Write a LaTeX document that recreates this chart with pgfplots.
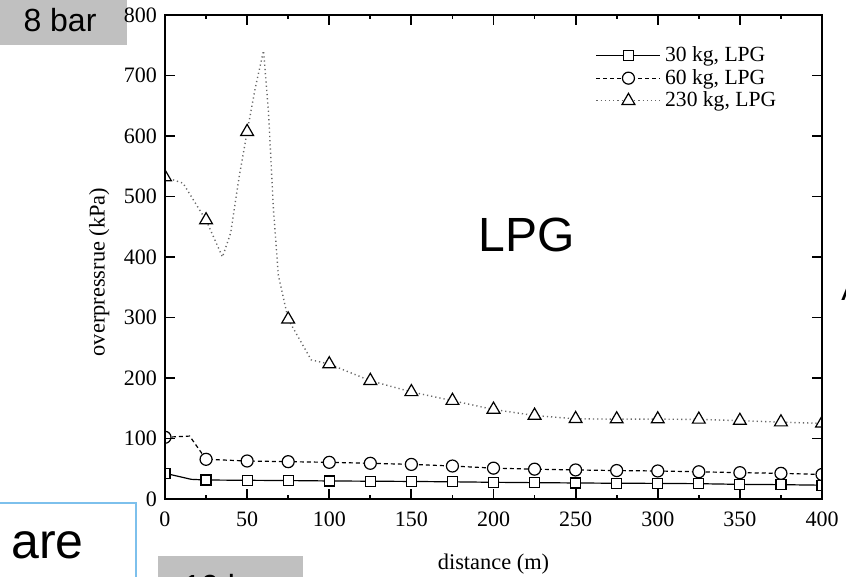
\documentclass[border=0pt]{standalone}
\usepackage{fontspec}
\setmainfont{Liberation Serif}
\newfontfamily\arial{Liberation Sans}
\usepackage{pgfplots}
\pgfplotsset{compat=1.18}
\definecolor{boxgray}{RGB}{192,192,192}
\definecolor{boxblue}{RGB}{125,192,236}
\begin{document}
\begin{tikzpicture}
\useasboundingbox (0,0) rectangle (423pt,288.5pt);
% overlapping slide element behind the axis
\fill[boxgray] (0,266pt) rectangle (63.5pt,290pt);
\node[font=\arial\fontsize{16}{19}\selectfont, inner sep=0pt] at (30pt,278.5pt) {8 bar};
\begin{axis}[
    at={(82.5pt,39pt)}, anchor=south west,
    scale only axis, width=328.5pt, height=242pt,
    xmin=0, xmax=400, ymin=0, ymax=800,
    xtick={0,50,...,400}, ytick={0,100,...,800},
    minor x tick num=1,
    tick align=inside, major tick length=5pt, minor tick length=2pt,
    axis line style={line width=1pt},
    every tick/.style={black, line width=0.9pt},
    axis on top, clip marker paths=true,
    /pgf/number format/assume math mode=true,
    tick label style={font=\rmfamily\fontsize{11}{13}\selectfont},
    xticklabel style={yshift=-3pt},
    yticklabel style={xshift=-0.5pt},
    label style={font=\rmfamily\fontsize{11.2}{13}\selectfont},
    xlabel={distance (m)}, ylabel={overpressrue (kPa)},
    xlabel style={at={(axis description cs:0.5,-0.135)}, anchor=center},
    ylabel style={at={(axis description cs:-0.1,0.469)}, anchor=center},
    legend image code/.code={\draw[mark repeat=2,mark phase=2,#1] plot coordinates {(0pt,0pt) (16pt,0pt) (32pt,0pt)};},
    legend style={at={(axis description cs:0.652,0.948)}, anchor=north west,
      draw=none, fill=none, font=\rmfamily\fontsize{10.8}{13}\selectfont,
      row sep=-1.7pt, inner sep=1pt},
    legend cell align=left,
  ]
  % 30 kg
  \addplot[black, line width=0.6pt, forget plot] coordinates {
    (0,42.5) (16,32.5) (25,31.4) (50,30.9) (75,30.5) (100,29.8) (125,29.4) (150,29)
    (175,28.4) (200,27.6) (225,27) (250,26.5) (275,26) (300,25.8) (325,25.3)
    (350,24.2) (375,23.7) (400,22.8)};
  \addplot[only marks, mark=square*, mark size=2.5pt, mark options={black, fill=white, line width=0.6pt}, forget plot] coordinates {
    (0,42.5) (25,31.4) (50,30.9) (75,30.5) (100,29.8) (125,29.4) (150,29)
    (175,28.4) (200,27.6) (225,27) (250,26.5) (275,26) (300,25.8) (325,25.3)
    (350,24.2) (375,23.7) (400,22.8)};
  % 60 kg
  \addplot[black, line width=0.6pt, dash pattern=on 2pt off 1.5pt, forget plot] coordinates {
    (0,102) (15,104) (25,65.6) (50,62.8) (75,61.7) (100,60.6) (125,59) (150,57.2)
    (175,54.5) (200,51) (225,49.3) (250,48) (275,47) (300,46.3) (325,45)
    (350,43.5) (375,42.4) (400,40.5)};
  \addplot[only marks, mark=*, mark size=3pt, mark options={black, fill=white, line width=0.6pt}, forget plot] coordinates {
    (0,102) (25,65.6) (50,62.8) (75,61.7) (100,60.6) (125,59) (150,57.2)
    (175,54.5) (200,51) (225,49.3) (250,48) (275,47) (300,46.3) (325,45)
    (350,43.5) (375,42.4) (400,40.5)};
  % 230 kg
  \addplot[black!60, line width=0.7pt, dash pattern=on 0.6pt off 1.5pt, forget plot] coordinates {
    (0,532) (11,522) (21,478) (25,461) (35,400) (40,440) (45,530) (50,607)
    (55,680) (60,741) (63,640) (66,480) (69,370) (75,297) (89,230) (100,223)
    (125,195.5) (150,177) (175,162.5) (200,148) (225,138) (250,132.5) (275,132)
    (300,132) (325,131.5) (350,129.5) (375,127) (400,125)};
  \addplot[only marks, mark=triangle*, mark size=3.7pt, mark options={black, fill=white, line width=0.6pt}, forget plot] coordinates {
    (0,532) (25,461) (50,607) (75,297) (100,223)
    (125,195.5) (150,177) (175,162.5) (200,148) (225,138) (250,132.5) (275,132)
    (300,132) (325,131.5) (350,129.5) (375,127) (400,125)};
  \addlegendimage{black, line width=0.6pt, mark=square*, mark size=2.5pt, mark options={solid, fill=white}}
  \addlegendimage{black, line width=0.6pt, dash pattern=on 2pt off 1.5pt, mark=*, mark size=3pt, mark options={solid, fill=white}}
  \addlegendimage{black!60, line width=0.7pt, dash pattern=on 0.6pt off 1.5pt, mark=triangle*, mark size=3.7pt, mark options={solid, black, fill=white, line width=0.6pt}}
  \legend{{30 kg, LPG}, {60 kg, LPG}, {230 kg, LPG}}
\end{axis}
\node[font=\arial\fontsize{24}{28}\selectfont, inner sep=0pt] at (263.25pt,171pt) {LPG};
% overlapping slide elements
\fill[white] (0,-1pt) rectangle (68pt,37pt);
\draw[boxblue, line width=0.7pt] (0,37pt) -- (68pt,37pt) -- (68pt,-2pt);
\node[font=\arial\fontsize{25}{29}\selectfont, inner sep=0pt, anchor=base west] at (5.5pt,9pt) {are};
\fill[boxgray] (79pt,-2pt) rectangle (151.5pt,10.5pt);
\node[font=\arial\fontsize{16}{19}\selectfont, inner sep=0pt, anchor=base west] at (91.5pt,-10.5pt) {10 bar};
\node[font=\arial\fontsize{16}{19}\selectfont, inner sep=0pt, anchor=base west] at (420.5pt,138pt) {A};
\end{tikzpicture}
\end{document}
